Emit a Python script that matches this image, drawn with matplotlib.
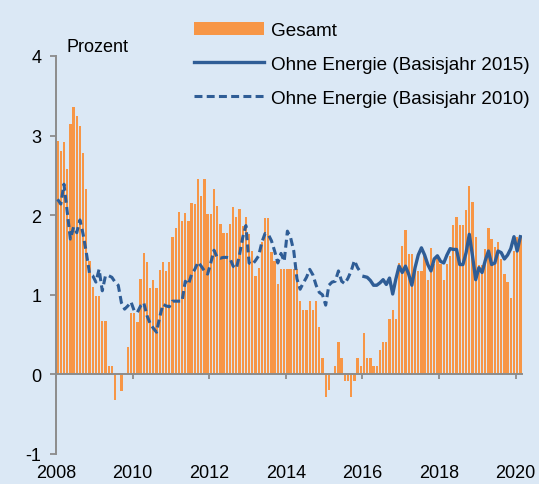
import numpy as np
import matplotlib
matplotlib.use("Agg")
import matplotlib.pyplot as plt

plt.rcParams['font.family'] = ['Liberation Sans', 'DejaVu Sans']

# Monatswerte ab Januar 2008
start_jahr = 2008

gesamt = [
    2.93, 2.81, 2.92, 2.58, 3.14, 3.36, 3.24, 3.12, 2.78, 2.33, 1.43, 1.10,   # 2008
    0.99, 0.99, 0.67, 0.67, 0.11, 0.11, -0.32, 0.00, -0.21, 0.00, 0.34, 0.77, # 2009
    0.77, 0.66, 1.20, 1.53, 1.41, 1.09, 1.19, 1.09, 1.31, 1.41, 1.30, 1.41,   # 2010
    1.73, 1.84, 2.04, 1.93, 2.03, 1.93, 2.15, 2.14, 2.46, 2.24, 2.46, 2.02,   # 2011
    2.01, 2.33, 2.11, 1.89, 1.78, 1.78, 1.89, 2.10, 1.98, 2.08, 1.87, 1.98,   # 2012
    1.76, 1.55, 1.24, 1.34, 1.66, 1.96, 1.96, 1.54, 1.43, 1.13, 1.33, 1.33,   # 2013
    1.33, 1.33, 1.33, 1.33, 0.92, 0.81, 0.81, 0.92, 0.81, 0.92, 0.60, 0.21,   # 2014
    -0.29, -0.19, 0.00, 0.10, 0.41, 0.21, -0.08, -0.08, -0.29, -0.08, 0.21, 0.10,  # 2015
    0.52, 0.21, 0.21, 0.10, 0.10, 0.31, 0.41, 0.41, 0.70, 0.81, 0.70, 1.40,   # 2016
    1.61, 1.81, 1.51, 1.51, 1.30, 1.30, 1.30, 1.50, 1.19, 1.59, 1.39, 1.50,   # 2017
    1.39, 1.19, 1.39, 1.49, 1.88, 1.98, 1.88, 1.88, 2.07, 2.37, 2.16, 1.72,   # 2018
    1.37, 1.37, 1.58, 1.84, 1.70, 1.60, 1.66, 1.45, 1.26, 1.16, 0.96, 1.55,   # 2019
    1.73, 1.73,                                                               # 2020
]

# Ohne Energie, Basisjahr 2010 (Jan 2008 - Dez 2015)
ohne_energie_2010 = [
    2.20, 2.14, 2.39, 2.05, 1.70, 1.85, 1.78, 1.94, 1.76, 1.53, 1.27, 1.24,
    1.16, 1.32, 1.05, 1.24, 1.24, 1.22, 1.16, 1.12, 0.90, 0.82, 0.86, 0.91,
    0.80, 0.78, 0.86, 0.90, 0.74, 0.64, 0.58, 0.53, 0.72, 0.88, 0.86, 0.85,
    0.92, 0.92, 0.92, 0.92, 1.17, 1.13, 1.26, 1.32, 1.41, 1.36, 1.30, 1.26,
    1.40, 1.56, 1.47, 1.46, 1.47, 1.47, 1.46, 1.36, 1.33, 1.50, 1.72, 1.87,
    1.40, 1.38, 1.43, 1.49, 1.66, 1.77, 1.76, 1.68, 1.55, 1.40, 1.52, 1.42,
    1.80, 1.72, 1.55, 1.20, 1.07, 1.15, 1.22, 1.32, 1.25, 1.12, 1.03, 1.00,
    0.87, 1.12, 1.16, 1.17, 1.30, 1.17, 1.14, 1.21, 1.30, 1.43, 1.34, 1.28,
]

# Ohne Energie, Basisjahr 2015 (Jan 2016 - Feb 2020)
ohne_energie_2015 = [
    1.23, 1.22, 1.18, 1.12, 1.12, 1.15, 1.19, 1.13, 1.21, 1.01, 1.20, 1.36,
    1.28, 1.36, 1.26, 1.12, 1.34, 1.50, 1.59, 1.50, 1.38, 1.30, 1.45, 1.49,
    1.42, 1.40, 1.50, 1.58, 1.57, 1.57, 1.38, 1.38, 1.53, 1.76, 1.49, 1.19,
    1.34, 1.28, 1.43, 1.55, 1.38, 1.40, 1.55, 1.53, 1.45, 1.50, 1.58, 1.73,
    1.55, 1.73,
]

jahre = [2008, 2010, 2012, 2014, 2016, 2018, 2020]
y_ticks = [-1, 0, 1, 2, 3, 4]

bg = '#dbe8f5'
orange = '#f79646'
blau = '#2f5d96'
grau = '#8c8c8c'

x = start_jahr + (np.arange(len(gesamt)) + 0.5) / 12
n10 = len(ohne_energie_2010)
x10 = x[:n10]
x15 = x[n10:n10 + len(ohne_energie_2015)]

fig = plt.figure(figsize=(5.39, 4.85), dpi=100, facecolor=bg)
ax = fig.add_axes([56 / 539, 30 / 485, (521.7 - 56) / 539, (455 - 57) / 485])
ax.set_facecolor(bg)

bars = ax.bar(x, gesamt, width=0.72 / 12, color=orange, zorder=2,
              label='Gesamt')
l15, = ax.plot(x15, ohne_energie_2015, color=blau, lw=2.4, zorder=3,
               label='Ohne Energie (Basisjahr 2015)')
l10, = ax.plot(x10, ohne_energie_2010, color=blau, lw=2.2, ls=(0, (2.6, 1.4)),
               zorder=3, label='Ohne Energie (Basisjahr 2010)')

ax.set_xlim(2008, 2020.16)
ax.set_ylim(-1, 4)

for s in ['top', 'right']:
    ax.spines[s].set_visible(False)
ax.spines['bottom'].set_position(('data', 0))
ax.spines['bottom'].set_zorder(4)
for s in ['left', 'bottom']:
    ax.spines[s].set_color(grau)
    ax.spines[s].set_linewidth(1.4)

ax.set_yticks(y_ticks)
ax.set_yticklabels([str(v) for v in y_ticks])
ax.tick_params(axis='y', length=4.5, width=1.3, color=grau, labelsize=13, pad=6)
ax.set_xticks(jahre)
ax.tick_params(axis='x', direction='out', length=3.5, width=1.3, color=grau,
               labelbottom=False)

sec = ax.secondary_xaxis('bottom')
sec.set_xticks(jahre)
sec.set_xticklabels([str(j) for j in jahre])
sec.tick_params(length=0, pad=7, labelsize=13)
sec.spines['bottom'].set_visible(False)

fig.text(67 / 539, 1 - 48 / 485, 'Prozent', fontsize=13, ha='left', va='center')

fig.legend(handles=[bars, l15, l10], loc='upper left',
           bbox_to_anchor=(194 / 539, 1 - 23 / 485), frameon=False,
           fontsize=13.6, handlelength=3.7, handletextpad=0.4,
           labelspacing=0.88, borderpad=0, borderaxespad=0)

fig.savefig('out.png', dpi=100, facecolor=bg)
